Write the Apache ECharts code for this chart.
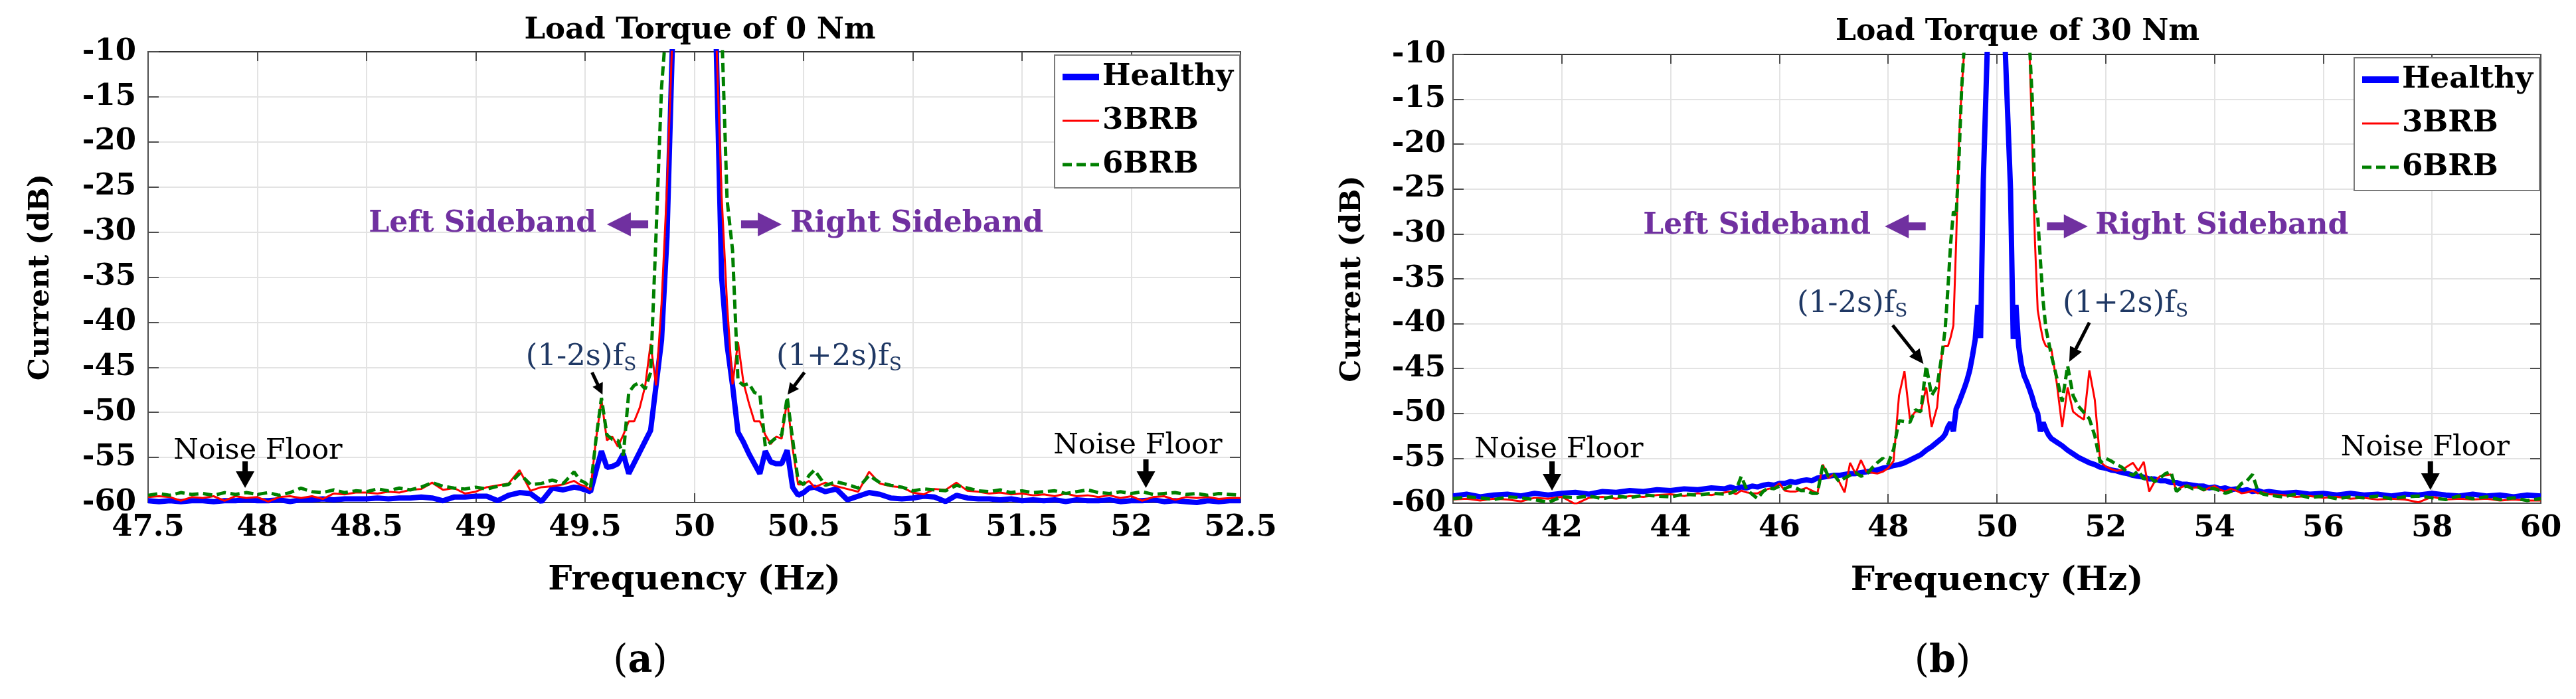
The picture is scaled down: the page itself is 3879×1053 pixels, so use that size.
<!DOCTYPE html>
<html><head><meta charset="utf-8">
<script src="https://cdn.jsdelivr.net/npm/echarts@6/dist/echarts.min.js"></script>
<style>html,body{margin:0;padding:0;background:#fff}#c{width:3879px;height:1053px}</style>
</head><body><div id="c"></div>
<script>
// ---------------- DATA ----------------
const seriesNames = ['Healthy', '3BRB', '6BRB'];
const titleA = 'Load Torque of 0 Nm';
const titleB = 'Load Torque of 30 Nm';

// (a) Load torque 0 Nm : frequency (Hz)
const freqA = [
  47.50,47.55,47.60,47.65,47.70,47.75,47.80,47.85,47.90,47.95,
  48.00,48.05,48.10,48.15,48.20,48.25,48.30,48.35,48.40,48.45,
  48.50,48.55,48.60,48.65,48.70,48.75,48.80,48.85,48.90,48.95,
  49.00,49.05,49.10,49.15,49.20,49.25,49.30,49.35,49.40,49.45,
  49.475,49.500,49.525,49.550,49.575,49.600,49.625,49.650,49.675,49.700,
  49.725,49.750,49.775,49.800,49.825,49.850,49.875,49.900,49.925,49.950,
  49.975,50.000,50.025,50.050,50.075,50.100,50.125,50.150,50.175,50.200,
  50.225,50.250,50.275,50.300,50.325,50.350,50.375,50.400,50.425,50.450,
  50.475,50.500,50.525,
  50.55,50.60,50.65,50.70,50.75,50.80,50.85,50.90,50.95,51.00,
  51.05,51.10,51.15,51.20,51.25,51.30,51.35,51.40,51.45,51.50,
  51.55,51.60,51.65,51.70,51.75,51.80,51.85,51.90,51.95,52.00,
  52.05,52.10,52.15,52.20,52.25,52.30,52.35,52.40,52.45,52.50
];
const healthyA = [
  -59.8,-59.9,-59.8,-59.9,-59.8,-59.8,-59.9,-59.8,-59.8,-59.7,
  -59.8,-59.8,-59.7,-59.9,-59.7,-59.7,-59.6,-59.7,-59.6,-59.6,
  -59.6,-59.5,-59.6,-59.5,-59.5,-59.4,-59.5,-59.8,-59.4,-59.4,
  -59.3,-59.3,-59.8,-59.2,-58.9,-59.0,-59.9,-58.4,-58.6,-58.3,
  -58.4,-58.6,-58.8,-56.5,-54.3,-56.1,-56.0,-55.7,-54.6,-56.8,
  -55.6,-54.4,-53.2,-52.0,-47.0,-42.0,-30.5,-9,-2,5,
  10,12,10,5,-2,-9,-35.0,-42.5,-47.0,-52.2,
  -53.3,-54.6,-55.7,-56.8,-54.3,-55.5,-55.7,-55.7,-54.2,-58.3,
  -59.2,-58.9,-58.4,
  -58.3,-58.8,-58.5,-59.7,-59.3,-58.9,-59.1,-59.5,-59.6,-59.5,
  -59.3,-59.4,-59.9,-59.2,-59.5,-59.6,-59.6,-59.7,-59.6,-59.8,
  -59.7,-59.8,-59.7,-59.9,-59.7,-59.8,-59.8,-59.7,-59.9,-59.8,
  -59.8,-59.7,-59.9,-59.8,-59.9,-60.0,-59.8,-59.9,-59.8,-59.8
];
const brb3A = [
  -59.4,-59.3,-59.4,-59.8,-59.4,-59.5,-59.3,-59.8,-59.3,-59.5,
  -59.4,-59.9,-59.4,-59.3,-59.5,-59.3,-59.6,-59.0,-59.1,-58.9,
  -58.9,-59.0,-58.8,-58.9,-58.6,-58.5,-57.8,-58.6,-58.4,-59.0,
  -58.8,-58.3,-58.1,-57.9,-56.4,-58.7,-58.3,-58.2,-58.0,-57.6,
  -58.0,-58.2,-58.6,-53.0,-48.6,-53.1,-52.7,-53.8,-52.5,-51.0,
  -51.0,-49.5,-47.1,-42.4,-47.0,-38.0,-25.0,-8,-1,6,
  11,13,11,6,-1,-8,-26.0,-38.0,-46.9,-42.2,
  -46.7,-49.0,-51.0,-51.0,-52.5,-53.5,-52.7,-52.9,-48.6,-54.0,
  -58.0,-58.0,-57.6,
  -58.3,-57.8,-58.2,-58.5,-58.8,-56.6,-57.9,-58.2,-58.3,-58.9,
  -59.1,-58.5,-58.6,-57.8,-58.7,-58.8,-59.0,-58.9,-59.1,-59.0,
  -59.2,-59.1,-59.3,-59.0,-59.3,-59.2,-59.4,-59.2,-59.5,-59.3,
  -59.8,-59.4,-59.3,-59.7,-59.4,-59.5,-59.4,-59.6,-59.5,-59.5
];
const brb6A = [
  -59.2,-59.0,-59.2,-58.9,-59.1,-59.0,-59.2,-58.9,-59.1,-58.9,
  -59.1,-58.9,-59.2,-58.9,-58.4,-58.8,-58.9,-58.6,-58.9,-58.7,
  -58.8,-58.5,-58.7,-58.4,-58.6,-58.3,-57.8,-58.2,-58.4,-58.5,
  -58.3,-58.5,-58.2,-58.0,-56.8,-58.0,-57.9,-57.5,-57.9,-56.6,
  -57.5,-57.8,-58.4,-53.0,-48.4,-52.5,-53.0,-53.1,-54.8,-47.8,
  -47.0,-46.7,-47.4,-45.6,-30.2,-14.0,-6,0,6,10,
  13,14,13,10,6,0,-7,-26.4,-32.0,-46.5,
  -47.0,-46.8,-47.8,-48.0,-53.8,-53.3,-52.8,-52.5,-48.3,-53.0,
  -57.6,-58.0,-57.0,
  -56.4,-58.1,-57.7,-58.0,-58.4,-57.0,-57.8,-58.1,-58.3,-58.7,
  -58.5,-58.6,-58.7,-58.1,-58.4,-58.7,-58.8,-58.6,-58.9,-58.7,
  -58.9,-58.8,-58.7,-59.0,-58.8,-58.6,-58.9,-59.0,-58.8,-59.0,
  -58.8,-59.1,-59.0,-58.9,-59.1,-59.0,-59.2,-59.0,-59.1,-59.2
];

// (b) Load torque 30 Nm : frequency (Hz)
const freqB = [
  40.00,40.25,40.50,40.75,41.00,41.25,41.50,41.75,42.00,42.25,
  42.50,42.75,43.00,43.25,43.50,43.75,44.00,44.25,44.50,44.75,45.00,
  45.1,45.2,45.3,45.4,45.5,45.6,45.7,45.8,45.9,46.0,
  46.1,46.2,46.3,46.4,46.5,46.6,46.7,46.8,46.9,47.0,
  47.1,47.2,47.3,47.4,47.5,47.6,47.7,47.8,47.9,48.0,
  48.1,48.2,48.3,48.4,48.5,48.6,48.7,48.8,48.9,
  49.00,49.05,49.10,49.15,49.20,49.25,49.30,49.35,49.40,49.45,
  49.50,49.55,49.60,49.65,49.70,49.75,49.80,49.85,49.90,49.95,
  50.00,50.05,50.10,50.15,50.20,50.25,50.30,50.35,50.40,50.45,
  50.50,50.55,50.60,50.65,50.70,50.75,50.80,50.85,50.90,50.95,51.00,
  51.1,51.2,51.3,51.4,51.5,51.6,51.7,51.8,51.9,52.0,
  52.1,52.2,52.3,52.4,52.5,52.6,52.7,52.8,52.9,53.0,
  53.1,53.2,53.3,53.4,53.5,53.6,53.7,53.8,53.9,54.0,
  54.1,54.2,54.3,54.4,54.5,54.6,54.7,54.8,54.9,
  55.00,55.25,55.50,55.75,56.00,56.25,56.50,56.75,57.00,57.25,
  57.50,57.75,58.00,58.25,58.50,58.75,59.00,59.25,59.50,59.75,60.00
];
const healthyB = [
  -59.2,-59.0,-59.3,-59.1,-59.0,-59.2,-58.9,-59.1,-58.9,-58.8,
  -59.0,-58.7,-58.8,-58.6,-58.7,-58.5,-58.6,-58.4,-58.5,-58.3,-58.4,
  -58.2,-58.4,-58.2,-58.3,-58.1,-58.2,-58.0,-57.9,-58.0,-57.8,
  -57.8,-57.6,-57.7,-57.5,-57.4,-57.5,-57.2,-57.1,-57.0,-56.9,
  -56.9,-56.8,-56.7,-56.7,-56.6,-56.5,-56.4,-56.3,-56.1,-56.0,
  -55.8,-55.7,-55.5,-55.2,-54.9,-54.6,-54.1,-53.7,-53.2,
  -52.7,-52.3,-51.5,-51.0,-52.0,-49.5,-48.8,-48.0,-47.2,-46.3,
  -45.2,-43.6,-41.8,-37.9,-41.6,-24.0,-14.0,-4.0,4,10,
  12,10,4,-9,-17,-25.0,-41.7,-37.9,-42.5,-44.6,
  -45.8,-46.5,-47.3,-48.2,-49.3,-50.0,-52.0,-51.0,-51.8,-52.4,-52.8,
  -53.2,-53.6,-54.1,-54.5,-54.9,-55.2,-55.5,-55.7,-56.0,-56.1,
  -56.3,-56.4,-56.6,-56.7,-56.9,-57.0,-57.1,-57.3,-57.3,-57.5,
  -57.5,-57.7,-57.7,-57.9,-57.9,-58.0,-58.1,-58.1,-58.3,-58.2,
  -58.4,-58.3,-58.5,-58.4,-58.6,-58.5,-58.7,-58.6,-58.8,
  -58.7,-58.9,-58.8,-59.0,-58.9,-59.1,-58.9,-59.1,-59.0,-59.2,
  -59.0,-59.1,-58.9,-59.1,-59.2,-59.0,-59.2,-59.1,-59.3,-59.1,-59.2
];
const brb3B = [
  -59.6,-59.5,-59.7,-59.5,-59.6,-59.8,-59.4,-59.5,-59.3,-60.1,
  -59.4,-59.3,-59.5,-59.2,-59.3,-59.1,-59.0,-59.2,-58.9,-59.1,-58.8,
  -58.7,-59.0,-58.6,-58.8,-58.9,-58.9,-58.6,-58.4,-58.3,-57.8,
  -58.6,-58.7,-58.7,-58.5,-58.3,-58.6,-58.9,-55.7,-57.2,-56.8,
  -57.6,-58.8,-55.5,-56.7,-55.2,-56.5,-56.6,-56.7,-56.5,-56.1,
  -55.3,-48.0,-45.3,-50.6,-49.8,-49.8,-47.1,-51.5,-49.3,
  -42.6,-42.5,-42.5,-41.5,-40.2,-31.0,-20.0,-14.0,-9.5,-5,
  -1,2,4,6,8,10,12,13,14,15,
  15,15,14,13,12,10,8,6,4,2,
  -1,-5,-9.5,-20,-31,-38.5,-40.3,-41.8,-42.5,-42.6,-42.8,
  -46.6,-51.5,-47.1,-49.8,-50.3,-50.7,-45.2,-48.5,-55.4,-55.9,
  -56.2,-56.4,-56.3,-55.9,-55.5,-56.4,-55.4,-58.7,-57.6,-57.0,
  -56.9,-56.8,-58.6,-58.2,-58.0,-58.3,-58.2,-58.6,-58.3,-58.1,
  -58.5,-58.7,-58.4,-58.6,-58.9,-58.8,-58.6,-58.9,-58.8,
  -59.0,-59.1,-59.3,-59.2,-59.4,-59.3,-59.5,-59.4,-59.6,-59.5,
  -59.6,-59.9,-59.3,-59.6,-59.5,-59.6,-59.5,-59.7,-59.6,-59.7,-59.7
];
const brb6B = [
  -59.5,-59.3,-59.4,-59.6,-59.3,-59.4,-59.6,-59.9,-59.3,-59.4,
  -59.2,-59.5,-59.2,-59.4,-59.1,-59.2,-59.3,-59.0,-59.1,-58.9,-59.0,
  -58.9,-58.6,-57.0,-58.5,-59.0,-59.5,-58.7,-58.3,-58.4,-58.1,
  -58.4,-58.1,-58.3,-58.6,-58.6,-58.9,-58.9,-55.7,-57.0,-56.8,
  -57.6,-57.2,-56.9,-56.6,-57.0,-56.8,-56.1,-55.5,-55.0,-55.6,
  -54.0,-50.8,-50.9,-51.0,-49.6,-49.8,-44.7,-48.0,-47.0,
  -43.0,-40.5,-36.0,-31.0,-27.5,-28.0,-22.0,-14.0,-9.0,-5,
  -1,2,4,6,8,10,12,13,14,15,
  15,15,14,13,12,10,8,6,4,2,
  -1,-5,-9,-15,-27.3,-28.0,-33.0,-37.5,-40.5,-42.0,-43.5,
  -46.0,-48.7,-44.7,-48.0,-49.2,-49.9,-50.6,-52.5,-55.5,-55.0,
  -55.3,-55.7,-56.0,-56.6,-56.9,-56.4,-57.3,-57.0,-57.6,-57.2,
  -56.7,-56.5,-58.7,-58.2,-58.1,-58.4,-58.2,-58.5,-58.3,-58.4,
  -58.6,-58.9,-58.7,-58.5,-57.8,-57.5,-56.8,-58.7,-59.0,
  -59.1,-59.3,-59.0,-59.4,-59.2,-59.5,-59.3,-59.4,-59.2,-59.5,
  -59.3,-59.2,-59.4,-59.6,-59.2,-59.5,-59.3,-59.6,-59.4,-59.7,-59.5
];

// ---------------- STYLE / LAYOUT ----------------
const FONT = 'DejaVu Serif';
const AXIS = '#4d4d4d';
const GRIDC = '#e3e3e3';
const NAVY = '#1f3864';
const PURPLE = '#7030a0';
const COLORS = ['#0000ff', '#ff0000', '#008000'];
const WIDTHS = [8, 3, 5];
const DASHES = ['solid', 'solid', [14, 7]];

// font sizes: balance the reference's text width and glyph height
const mctx = document.createElement('canvas').getContext('2d');
function textW(str, size, weight) {
  mctx.font = (weight || 'normal') + ' ' + size + 'px "' + FONT + '"';
  return mctx.measureText(str).width;
}
function fit(str, weight, targetW, heightSize) {
  const wf = 100 * targetW / textW(str, 100, weight);
  return Math.round(Math.pow(wf, 0.6) * Math.pow(heightSize, 0.4));
}
const FS = {
  titleA: fit(titleA, 'bold', 531, 44),
  titleB: fit(titleB, 'bold', 553, 44),
  yName: fit('Current (dB)', 'bold', 302, 46),
  xName: fit('Frequency (Hz)', 'bold', 436, 51),
  yTick: fit('-10', 'bold', 80, 46),
  xTick: fit('52.5', 'bold', 105, 47),
  legend: fit('Healthy', 'bold', 200, 45),
  side: fit('Right Sideband', 'bold', 381, 43),
  noise: fit('Noise Floor', 'normal', 267, 41),
  tag: fit('(a)', 'bold', 87, 60)
};
(function () {
  const w = (textW('(1-2s)f', 100, 'normal') + 0.62 * textW('S', 100, 'normal')) / 100;
  FS.harm = Math.round(Math.sqrt((169 / w) * 44));
})();

const chart = echarts.init(document.getElementById('c'), null, {renderer: 'canvas', width: 3879, height: 1053});

function xAxesFor(g, min, max, interval) {
  return [{
    gridIndex: g, type: 'value', min: min, max: max, interval: interval, position: 'bottom',
    axisLine: {show: true, onZero: false, lineStyle: {color: AXIS, width: 2}},
    axisTick: {show: true, inside: true, length: 14, lineStyle: {color: AXIS, width: 2}},
    axisLabel: {show: true, margin: 16, fontFamily: FONT, fontWeight: 'bold', fontSize: FS.xTick, color: '#000'},
    splitLine: {show: true, lineStyle: {color: GRIDC, width: 2}},
    name: 'Frequency (Hz)', nameLocation: 'middle', nameGap: 92,
    nameTextStyle: {fontFamily: FONT, fontWeight: 'bold', fontSize: FS.xName, color: '#000'}
  }, {
    gridIndex: g, type: 'value', min: min, max: max, interval: interval, position: 'top',
    axisLine: {show: true, onZero: false, lineStyle: {color: '#333', width: 2}},
    axisTick: {show: true, inside: true, length: 14, lineStyle: {color: AXIS, width: 2}},
    axisLabel: {show: false}, splitLine: {show: false}
  }];
}
function yAxesFor(g, margin, nameGap) {
  return [{
    gridIndex: g, type: 'value', min: -60, max: -10, interval: 5, position: 'left',
    axisLine: {show: true, onZero: false, lineStyle: {color: AXIS, width: 2}},
    axisTick: {show: true, inside: true, length: 16, lineStyle: {color: AXIS, width: 2}},
    axisLabel: {show: true, margin: margin, fontFamily: FONT, fontWeight: 'bold', fontSize: FS.yTick, color: '#000'},
    splitLine: {show: true, lineStyle: {color: GRIDC, width: 2}},
    name: 'Current (dB)', nameLocation: 'middle', nameGap: nameGap,
    nameTextStyle: {fontFamily: FONT, fontWeight: 'bold', fontSize: FS.yName, color: '#000'}
  }, {
    gridIndex: g, type: 'value', min: -60, max: -10, interval: 5, position: 'right',
    axisLine: {show: true, onZero: false, lineStyle: {color: AXIS, width: 2}},
    axisTick: {show: true, inside: true, length: 16, lineStyle: {color: AXIS, width: 2}},
    axisLabel: {show: false}, splitLine: {show: false}
  }];
}
function zip(f, v) { return f.map(function (x, i) { return [x, v[i]]; }); }
function seriesFor(g, freq, vals) {
  return vals.map(function (v, i) {
    return {
      name: seriesNames[i], type: 'line', xAxisIndex: 2 * g, yAxisIndex: 2 * g,
      data: zip(freq, v), showSymbol: false, symbol: 'none', clip: true,
      color: COLORS[i],
      lineStyle: {color: COLORS[i], width: WIDTHS[i], type: DASHES[i]},
      z: 2 + i, animation: false
    };
  });
}
function legendFor(left, top) {
  return {
    data: seriesNames.map(function (n, i) {
      return {name: n, lineStyle: {color: COLORS[i], width: i === 0 ? 10 : WIDTHS[i], type: DASHES[i]}};
    }),
    orient: 'vertical', left: left, top: top,
    backgroundColor: '#fff', borderColor: '#7a7a7a', borderWidth: 2,
    padding: [8, 10, 10, 7], itemGap: 16, itemWidth: 55, itemHeight: 20,
    itemStyle: {opacity: 0},
    textStyle: {fontFamily: FONT, fontWeight: 'bold', fontSize: FS.legend, color: '#000', lineHeight: 50},
    selectedMode: false
  };
}

const option = {
  backgroundColor: '#fff',
  animation: false,
  title: [
    {text: titleA, left: 1049, top: 19, textAlign: 'center',
     textStyle: {fontFamily: FONT, fontWeight: 'bold', fontSize: FS.titleA, color: '#000'}},
    {text: titleB, left: 3033, top: 22, textAlign: 'center',
     textStyle: {fontFamily: FONT, fontWeight: 'bold', fontSize: FS.titleB, color: '#000'}}
  ],
  grid: [
    {left: 223, top: 78, width: 1645, height: 679, containLabel: false, outerBoundsMode: 'none'},
    {left: 2188, top: 82, width: 1638, height: 676, containLabel: false, outerBoundsMode: 'none'}
  ],
  xAxis: xAxesFor(0, 47.5, 52.5, 0.5).concat(xAxesFor(1, 40, 60, 2)),
  yAxis: yAxesFor(0, 18, 140).concat(yAxesFor(1, 11, 130)),
  legend: [legendFor(1588, 83), legendFor(3545, 87)],
  series: seriesFor(0, freqA, [healthyA, brb3A, brb6A]).concat(seriesFor(1, freqB, [healthyB, brb3B, brb6B]))
};
chart.setOption(option);

// ---------------- ANNOTATIONS (placed in data coordinates) ----------------
const annotations = [
  { g: 0,
    side: {leftX: 49.552, y: -29.15, leftArrow: [49.789, 49.600], rightArrow: [50.214, 50.400], rightX: 50.439},
    harm: {y: -43.9, left: [49.229, '(1-2s)f'], right: [50.375, '(1+2s)f'],
           arrows: [[[49.532, -45.57], [49.580, -48.03]], [[50.504, -45.57], [50.427, -48.03]]], head: [17, 17]},
    noise: [{tx: 48.003, ty: -54.33, ax: 47.944, a0: -55.43, a1: -58.38},
            {tx: 52.030, ty: -53.74, ax: 52.067, a0: -55.21, a1: -58.38}],
    tag: ['(', 'a', ')'], tagX: 964 },
  { g: 1,
    side: {leftX: 47.68, y: -29.16, leftArrow: [48.69, 47.94], rightArrow: [50.92, 51.67], rightX: 51.81},
    harm: {y: -37.8, left: [46.325, '(1-2s)f'], right: [51.21, '(1+2s)f'],
           arrows: [[[48.083, -40.18], [48.65, -44.49]], [[51.70, -39.88], [51.33, -44.25]]], head: [20, 22]},
    noise: [{tx: 41.947, ty: -54.08, ax: 41.82, a0: -55.34, a1: -58.6},
            {tx: 57.875, ty: -53.86, ax: 57.97, a0: -55.34, a1: -58.52}],
    tag: ['(', 'b', ')'], tagX: 2925 }
];

function P(g, x, y) { return chart.convertToPixel({gridIndex: g}, [x, y]); }
function arrowPoly(t, h, sw, hw, hl, color) {
  const dx = h[0] - t[0], dy = h[1] - t[1];
  const L = Math.hypot(dx, dy), ux = dx / L, uy = dy / L, nx = -uy, ny = ux;
  const bx = h[0] - ux * hl, by = h[1] - uy * hl;
  const pts = [
    [t[0] + nx * sw / 2, t[1] + ny * sw / 2], [bx + nx * sw / 2, by + ny * sw / 2],
    [bx + nx * hw / 2, by + ny * hw / 2], [h[0], h[1]],
    [bx - nx * hw / 2, by - ny * hw / 2], [bx - nx * sw / 2, by - ny * sw / 2],
    [t[0] - nx * sw / 2, t[1] - ny * sw / 2]
  ];
  return {type: 'polygon', shape: {points: pts}, style: {fill: color}, z: 100, silent: true};
}
function txt(pt, str, style) {
  return {type: 'text', x: pt[0], y: pt[1], z: 100, silent: true,
          style: Object.assign({text: str, fontFamily: FONT, fill: '#000'}, style)};
}

const graphics = [];
annotations.forEach(function (a) {
  const g = a.g, s = a.side;
  graphics.push(txt(P(g, s.leftX, s.y), 'Left Sideband',
    {fontSize: FS.side, fontWeight: 'bold', fill: PURPLE, align: 'right', verticalAlign: 'middle'}));
  graphics.push(txt(P(g, s.rightX, s.y), 'Right Sideband',
    {fontSize: FS.side, fontWeight: 'bold', fill: PURPLE, align: 'left', verticalAlign: 'middle'}));
  graphics.push(arrowPoly(P(g, s.leftArrow[0], s.y), P(g, s.leftArrow[1], s.y), 12, 36, 36, PURPLE));
  graphics.push(arrowPoly(P(g, s.rightArrow[0], s.y), P(g, s.rightArrow[1], s.y), 12, 36, 36, PURPLE));

  const h = a.harm;
  const sub = Math.round(FS.harm * 0.62);
  [h.left, h.right].forEach(function (item) {
    graphics.push(txt(P(g, item[0], h.y), '{m|' + item[1] + '}{s|S}', {
      align: 'left', verticalAlign: 'middle',
      rich: {
        m: {fontFamily: FONT, fontSize: FS.harm, fill: NAVY, lineHeight: 52},
        s: {fontFamily: FONT, fontSize: sub, fill: NAVY, lineHeight: 52, verticalAlign: 'bottom'}
      }
    }));
  });
  h.arrows.forEach(function (ar) {
    graphics.push(arrowPoly(P(g, ar[0][0], ar[0][1]), P(g, ar[1][0], ar[1][1]), 5, h.head[0], h.head[1], '#000'));
  });

  a.noise.forEach(function (n) {
    graphics.push(txt(P(g, n.tx, n.ty), 'Noise Floor',
      {fontSize: FS.noise, align: 'center', verticalAlign: 'middle', fill: '#000'}));
    graphics.push(arrowPoly(P(g, n.ax, n.a0), P(g, n.ax, n.a1), 8, 28, 25, '#000'));
  });

  graphics.push({type: 'text', x: a.tagX, y: 997, z: 100, silent: true, style: {
    text: '{p|' + a.tag[0] + '}{l|' + a.tag[1] + '}{p|' + a.tag[2] + '}',
    align: 'center', verticalAlign: 'middle',
    rich: {p: {fontFamily: FONT, fontSize: FS.tag, fill: '#000'},
           l: {fontFamily: FONT, fontSize: FS.tag, fontWeight: 'bold', fill: '#000'}}
  }});
});
chart.setOption({graphic: graphics});
</script>
</body></html>
